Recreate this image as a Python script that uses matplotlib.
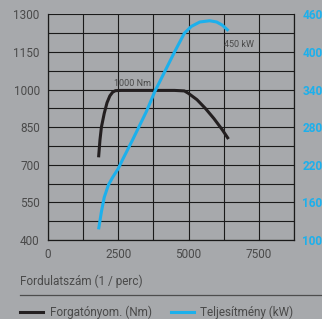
#Imports
import numpy as np
import matplotlib
matplotlib.use("Agg")
import matplotlib.pyplot as plt
from matplotlib.lines import Line2D

#Data
rpm_torque = [1800, 1850, 1900, 2000, 2100, 2200, 2300, 2400, 2600, 3000, 3500, 4000, 4500, 4850, 5000, 5300, 5600, 5900, 6200, 6420]
torque_nm = [730, 800, 850, 905, 948, 975, 990, 996, 997, 997, 997, 997, 997, 995, 985, 960, 925, 885, 840, 803]

rpm_power = [1800, 1900, 2000, 2150, 2300, 2500, 2650, 3000, 3500, 3800, 4000, 4500, 4850, 5100, 5400, 5750, 6000, 6200, 6420]
power_kw = [117, 145, 168, 188, 200, 214, 228, 259, 305, 337, 355, 400, 430, 441, 448, 450, 448, 443, 434]

x_ticks = [0, 2500, 5000, 7500]
left_ticks = [400, 550, 700, 850, 1000, 1150, 1300]
right_ticks = [100, 160, 220, 280, 340, 400, 460]

#Colours
bg = "#a7a9ac"
txt = "#4a4a4a"
blue = "#1cb0ec"
dark = "#231f20"

plt.rcParams['font.family'] = ['Roboto', 'DejaVu Sans']

fig = plt.figure(figsize=(3.22, 3.19), dpi=100, facecolor=bg)
ax = fig.add_axes([0.149, 0.2476, 0.764, 0.707])
ax.set_facecolor(bg)
ax.set_xlim(0, 8750)
ax.set_ylim(400, 1300)

# gridlines every 1250 rpm / 75 Nm, labels on every second one
ax.set_xticks(np.arange(0, 8751, 1250))
ax.set_xticklabels([str(v) if v in x_ticks else "" for v in np.arange(0, 8751, 1250)])
ax.set_yticks(np.arange(400, 1301, 75))
ax.set_yticklabels([str(v) if v in left_ticks else "" for v in np.arange(400, 1301, 75)])
ax.grid(True, color="#1a1a1a", linewidth=0.8)
ax.tick_params(length=0, labelsize=8.5, labelcolor=txt, pad=6)
for s in ["left", "bottom", "right"]:
    ax.spines[s].set_color("#1a1a1a")
    ax.spines[s].set_linewidth(0.9)
ax.spines["top"].set_visible(False)

ax2 = ax.twinx()
ax2.set_ylim(100, 460)
ax2.set_yticks(right_ticks)
ax2.tick_params(length=0, labelsize=8.5, labelcolor=blue, pad=6)
for lab in ax2.get_yticklabels():
    lab.set_fontweight("bold")
for s in ax2.spines.values():
    s.set_visible(False)

ax.plot(rpm_torque, torque_nm, color=dark, linewidth=2.2, solid_capstyle="butt")
ax2.plot(rpm_power, power_kw, color=blue, linewidth=2.2, solid_capstyle="butt")

ax.text(2360, 1008, "1000 Nm", fontsize=6.5, color=txt, ha="left", va="bottom")
ax2.text(6250, 420, "450 kW", fontsize=6.5, color=txt, ha="left", va="top")

ax.set_xlabel("Fordulatszám (1 / perc)", fontsize=8.5, color=txt, labelpad=6)
ax.xaxis.set_label_coords(-0.115, -0.155)
ax.xaxis.label.set_ha("left")

# separator and legend
fig.add_artist(Line2D([20/322, 1], [1 - 295/319] * 2, color="#4d4d4d", linewidth=0.9))
ly = 1 - 312/319
fig.add_artist(Line2D([20/322, 43/322], [ly, ly], color=dark, linewidth=2.2))
fig.text(50/322, ly, "Forgatónyom. (Nm)", fontsize=8.5, color=txt, va="center")
fig.add_artist(Line2D([171/322, 194/322], [ly, ly], color=blue, linewidth=2.2))
fig.text(200/322, ly, "Teljesítmény (kW)", fontsize=8.5, color=txt, va="center")

fig.savefig("out.png", dpi=100, facecolor=bg)
